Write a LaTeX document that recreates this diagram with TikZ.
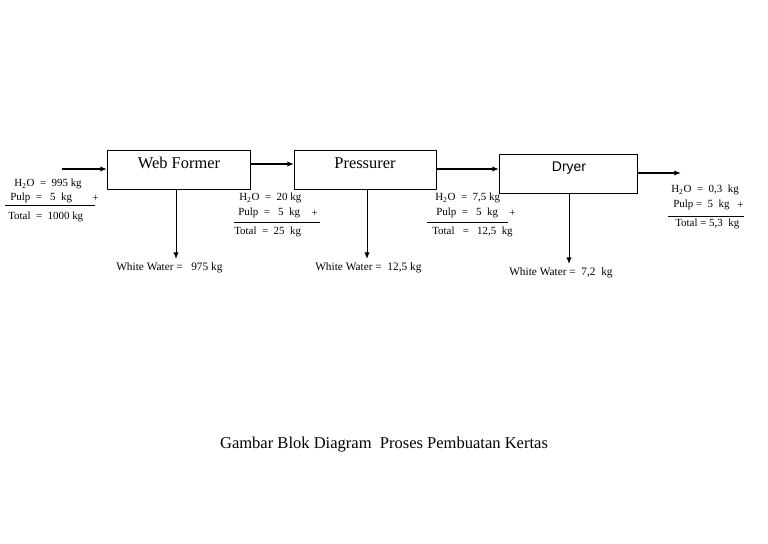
\documentclass[tikz,border=0pt]{standalone}
\usepackage{fontspec}
\setmainfont{Liberation Serif}
\newfontfamily\arialf{Liberation Sans}
\usetikzlibrary{arrows.meta}
\begin{document}
\begin{tikzpicture}[x=0.75pt,y=-0.75pt,
  blk/.style={draw,line width=0.75pt,inner sep=0pt},
  ttl/.style={inner sep=0pt,font=\fontsize{12.3}{14}\selectfont},
  flow/.style={line width=1.3pt,-{Latex[length=5pt,width=4pt]}},
  drop/.style={line width=0.75pt,-{Latex[length=5pt,width=4pt]}},
  lbl/.style={anchor=west,inner sep=0pt,font=\fontsize{8.2}{9}\selectfont},
  ww/.style={anchor=west,inner sep=0pt,font=\fontsize{8.5}{10}\selectfont},
  rule/.style={line width=0.6pt}]
\useasboundingbox (0,0) rectangle (768,543);
% blocks
\node[blk,minimum width=107.25pt,minimum height=29.25pt,anchor=north west] (wf) at (107,150) {};
\node[ttl] (wft) at (179,163) {Web Former};
\node[blk,minimum width=106.5pt,minimum height=29.25pt,anchor=north west] (pr) at (294,150) {};
\node[ttl] (prt) at (365,163) {Pressurer};
\node[blk,minimum width=103.5pt,minimum height=29.25pt,anchor=north west] (dr) at (499,154) {};
\node[inner sep=0pt,font=\arialf\fontsize{10.5}{12}\selectfont] (drt) at (569,168) {Dryer};
% flow arrows
\coordinate (in) at (62,169);
\coordinate (out) at (681,173);
\draw[flow] (in) -- (wf.west |- in);
\draw[flow] (wf.east |- 0,164) -- (pr.west |- 0,164);
\draw[flow] (pr.east |- 0,169) -- (dr.west |- 0,169);
\draw[flow] (dr.east |- out) -- (out);
% white water
\node[ww] (w1) at (116,268) {White Water =\ \ \ 975 kg};
\node[ww] (w2) at (315,268) {White Water =\ \ 12,5 kg};
\node[ww] (w3) at (509,273) {White Water =\ \ 7,2\ \ kg};
\draw[drop] (176,189) -- (176,259);
\draw[drop] (367,189) -- (367,259);
\draw[drop] (569,193) -- (569,264);
% left balance
\node[lbl] (a1) at (14,184) {H\textsubscript{2}O\ \ =\ \ 995 kg};
\node[lbl] (a2) at (10,198) {Pulp\ \ =\ \ \ 5\ \ kg};
\node[lbl] (a3) at (92,198) {+};
\draw[rule] (5,205) -- (95,205);
\node[lbl] (a4) at (8,217) {Total\ \ =\ \ 1000 kg};
% middle 1
\node[lbl] (b1) at (239,198) {H\textsubscript{2}O\ \ =\ \ 20 kg};
\node[lbl] (b2) at (238,213) {Pulp\ \ =\ \ \ 5\ \ kg};
\node[lbl] (b3) at (311,213) {+};
\draw[rule] (234,222) -- (320,222);
\node[lbl] (b4) at (234,232) {Total\ \ =\ \ 25\ \ kg};
% middle 2
\node[lbl] (c1) at (435,198) {H\textsubscript{2}O\ \ =\ \ 7,5 kg};
\node[lbl] (c2) at (436,213) {Pulp\ \ =\ \ \ 5\ \ kg};
\node[lbl] (c3) at (509,213) {+};
\draw[rule] (427,222) -- (508,222);
\node[lbl] (c4) at (432,232) {Total\ \ \ =\ \ \ 12,5\ \ kg};
% right
\node[lbl] (d1) at (671,190) {H\textsubscript{2}O\ \ =\ \ 0,3\ \ kg};
\node[lbl] (d2) at (673,205) {Pulp = \ 5\ \ kg};
\node[lbl] (d3) at (737,205) {+};
\draw[rule] (668,216) -- (744,216);
\node[lbl] (d4) at (675,224) {Total = 5,3\ \ kg};
% caption
\node[inner sep=0pt,font=\fontsize{12.4}{14}\selectfont] (cap) at (384,445) {Gambar Blok Diagram\ \ Proses Pembuatan Kertas};
\end{tikzpicture}
\end{document}
